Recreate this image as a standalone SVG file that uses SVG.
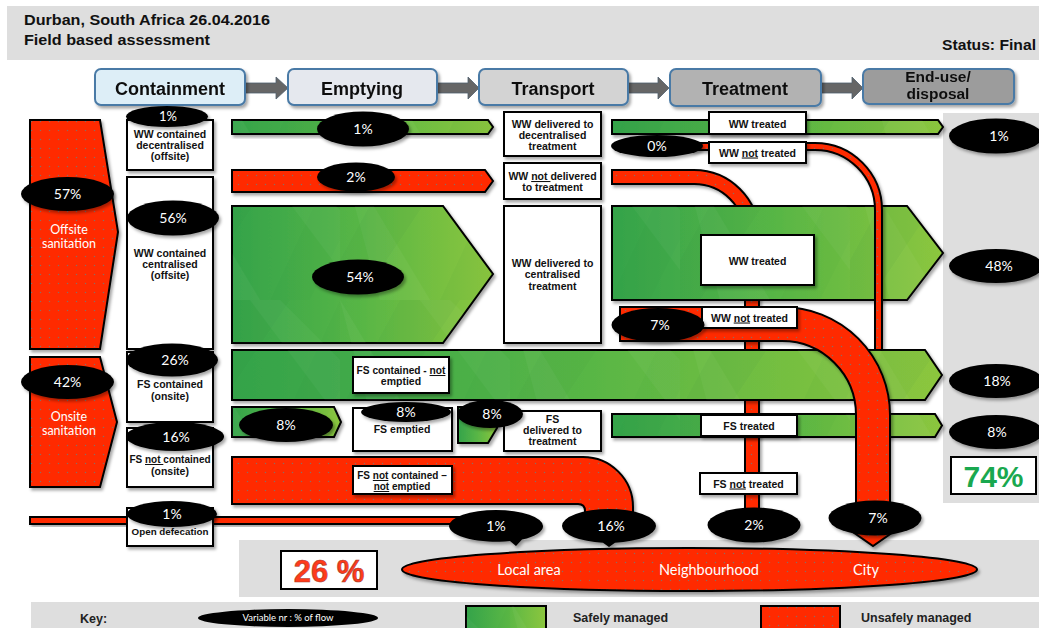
<svg xmlns="http://www.w3.org/2000/svg" width="1039" height="628" viewBox="0 0 1039 628">
  <defs>
    <style>
      .hdr{font-family:"Liberation Sans",Arial,sans-serif;font-weight:bold;font-size:14px;fill:#111}
      .stage{stroke:#4a7aa6;stroke-width:2}
      .stt{font-family:"Liberation Sans",Arial,sans-serif;font-weight:bold;font-size:18px;fill:#111;text-anchor:middle}
      .box{fill:#fff;stroke:#000;stroke-width:2}
      .bt{font-family:"Liberation Sans",Arial,sans-serif;font-weight:bold;font-size:10.5px;fill:#111;text-anchor:middle}
      .red{fill:url(#dots);stroke:#000;stroke-width:2}
      .grn{fill:url(#gg);stroke:#000;stroke-width:2}
      .fac{fill:url(#facets);stroke:none}
      .ell{fill:#000}
      .pct{font-family:Lato,"Open Sans",sans-serif;font-size:14px;fill:#fff;text-anchor:middle}
      .wl{font-family:Lato,"Open Sans",sans-serif;font-size:12.5px;fill:#fff;text-anchor:middle}
      .panel{fill:#dedede}
      .sh{filter:url(#shadow)}
      .u{text-decoration:underline}
    </style>
    <filter id="shadow" x="-10%" y="-10%" width="130%" height="140%">
      <feDropShadow dx="2" dy="2.5" stdDeviation="1.6" flood-color="#000" flood-opacity="0.35"/>
    </filter>
    <pattern id="dots" width="9" height="9" patternUnits="userSpaceOnUse">
      <rect width="9" height="9" fill="#ff2a00"/>
      <circle cx="4.5" cy="4.5" r="0.75" fill="#8f6a62"/>
    </pattern>
    <linearGradient id="gg" x1="0" y1="0" x2="1" y2="0">
      <stop offset="0" stop-color="#34a34a"/>
      <stop offset="0.5" stop-color="#58b645"/>
      <stop offset="1" stop-color="#8cc63e"/>
    </linearGradient>
    <!-- faint crossing facets over the green fills -->
    <pattern id="facets" width="170" height="150" patternUnits="userSpaceOnUse">
      <polygon points="0,0 90,150 40,150" fill="#fff" opacity="0.04"/>
      <polygon points="60,0 120,0 20,150 0,150 0,110" fill="#1e7a35" opacity="0.05"/>
      <polygon points="110,0 170,60 170,120 80,0" fill="#fff" opacity="0.035"/>
      <polygon points="170,0 100,150 140,150 170,90" fill="#1e7a35" opacity="0.04"/>
    </pattern>
  </defs>

  <!-- header band -->
  <g id="header">
    <rect x="7" y="6" width="1032" height="54" class="panel"/>
    <text class="hdr" x="24" y="25" textLength="246" lengthAdjust="spacingAndGlyphs">Durban, South Africa 26.04.2016</text>
    <text class="hdr" x="24" y="45" textLength="186" lengthAdjust="spacingAndGlyphs">Field based assessment</text>
    <text class="hdr" x="942" y="50" textLength="94" lengthAdjust="spacingAndGlyphs">Status: Final</text>
  </g>

  <!-- background panels -->
  <g id="panels">
    <rect x="943" y="113" width="96" height="390" class="panel"/>
    <rect x="239" y="540" width="800" height="57" class="panel"/>
    <rect x="31" y="602" width="1008" height="26" class="panel"/>
  </g>

  <!-- service chain stages -->
  <g id="stage-arrows" fill="#666" stroke="#4f5f6e" stroke-width="0.8">
    <polygon points="245,83 276,83 276,77 288,88 276,99 276,93 245,93"/>
    <polygon points="437,83 468,83 468,77 479,88 468,99 468,93 437,93"/>
    <polygon points="628,83 658,83 658,77 669,88 658,99 658,93 628,93"/>
    <polygon points="821,83 852,83 852,77 863,88 852,99 852,93 821,93"/>
  </g>
  <g id="stage-containment" class="sh">
    <rect x="95" y="69" width="150" height="36" rx="6" class="stage" fill="#ddeef7"/>
    <text class="stt" x="170" y="95">Containment</text>
  </g>
  <g id="stage-emptying" class="sh">
    <rect x="288" y="69" width="149" height="36" rx="6" class="stage" fill="#e5e8ee"/>
    <text class="stt" x="362" y="95">Emptying</text>
  </g>
  <g id="stage-transport" class="sh">
    <rect x="479" y="69" width="149" height="36" rx="6" class="stage" fill="#d3d3d3"/>
    <text class="stt" x="553" y="95">Transport</text>
  </g>
  <g id="stage-treatment" class="sh">
    <rect x="670" y="69" width="151" height="37" rx="6" class="stage" fill="#b2b2b2"/>
    <text class="stt" x="745" y="95">Treatment</text>
  </g>
  <g id="stage-enduse" class="sh">
    <rect x="863" y="69" width="151" height="35" rx="6" class="stage" fill="#9c9c9c"/>
    <text class="stt" x="938" y="82" style="font-size:15.5px">End-use/</text>
    <text class="stt" x="938" y="99" style="font-size:15.5px">disposal</text>
  </g>

  <!-- flows -->
  <g id="connectors">
    <!-- WW not delivered: runs beneath the green rows down to 2% -->
    <path class="red sh" d="M612 170 L694 170 A65 65 0 0 1 759 235 L759 512 L745 512 L745 235 A51 51 0 0 0 694 184 L612 184 Z"/>

    <!-- emptying / transport rows -->
    <polygon class="grn sh" points="232,120 488,120 493,127 488,134 232,134"/>
    <polygon class="fac" points="232,120 488,120 493,127 488,134 232,134"/>
    <polygon class="red sh" points="232,170 485,170 493,181 485,192 232,192"/>
    <polygon class="grn sh" points="232,206 443,206 493,274 443,343 232,343"/>
    <polygon class="fac" points="232,206 443,206 493,274 443,343 232,343"/>

    <!-- treatment rows -->
    <polygon class="grn sh" points="612,120 938,120 943,127 938,134 612,134"/>
    <polygon class="fac" points="612,120 938,120 943,127 938,134 612,134"/>
    <polygon class="grn sh" points="612,206 907,206 943,253 907,300 612,300"/>
    <polygon class="fac" points="612,206 907,206 943,253 907,300 612,300"/>

    <!-- WW not treated (decentralised) thin pipe -->
    <path class="red sh" d="M690 143 L815 143 A67 67 0 0 1 882 210 L882 372 L875 372 L875 210 A60 60 0 0 0 815 150 L690 150 Z"/>

    <!-- faecal sludge rows -->
    <polygon class="grn sh" points="232,350 925,350 942,375 925,400 232,400"/>
    <polygon class="fac" points="232,350 925,350 942,375 925,400 232,400"/>
    <polygon class="grn sh" points="232,407 334,407 341,422 334,437 232,437"/>
    <polygon class="fac" points="232,407 334,407 341,422 334,437 232,437"/>
    <polygon class="grn sh" points="458,407 497,407 497,428 488,443 458,443"/>
    <polygon class="grn sh" points="612,414 935,414 942,425.5 935,437 612,437"/>
    <polygon class="fac" points="612,414 935,414 942,425.5 935,437 612,437"/>

    <!-- WW not treated (centralised) to city -->
    <path class="red sh" d="M620 307 L782 307 A108 108 0 0 1 890 415 L890 530 L896 530 L873 546 L850 530 L856 530 L856 415 A74 74 0 0 0 782 341 L620 341 Z"/>

    <!-- FS not contained / not emptied -->
    <path class="red sh" d="M232 457 L583 457 A50 50 0 0 1 633 507 L633 525 L585 525 L585 511 Q585 504 578 504 L232 504 Z"/>

    <!-- open defecation -->
    <rect class="red sh" x="30" y="517" width="490" height="7"/>
  </g>

  <!-- containment sources -->
  <g id="offsite">
    <polygon class="red sh" points="30,120 100,120 118,232 100,349 30,349"/>
    <text class="wl" x="69" y="233.5">Offsite</text>
    <text class="wl" x="69" y="247.5">sanitation</text>
  </g>
  <g id="onsite">
    <polygon class="red sh" points="30,357 100,357 117,422 100,487 30,487"/>
    <text class="wl" x="69" y="420.5">Onsite</text>
    <text class="wl" x="69" y="434.5">sanitation</text>
  </g>

  <g id="ww-decentralised">
    <rect class="box sh" x="127" y="120" width="86" height="50"/>
    <text class="bt" x="170" y="137.5">WW contained</text>
    <text class="bt" x="170" y="148.5">decentralised</text>
    <text class="bt" x="170" y="159.5">(offsite)</text>
  </g>
  <g id="ww-centralised">
    <rect class="box sh" x="127" y="177" width="86" height="172"/>
    <text class="bt" x="170" y="257">WW contained</text>
    <text class="bt" x="170" y="267.5">centralised</text>
    <text class="bt" x="170" y="278.5">(offsite)</text>
  </g>
  <g id="fs-contained">
    <rect class="box sh" x="127" y="352" width="86" height="70"/>
    <text class="bt" x="170" y="388">FS contained</text>
    <text class="bt" x="170" y="399.5">(onsite)</text>
  </g>
  <g id="fs-not-contained">
    <rect class="box sh" x="127" y="428" width="86" height="59"/>
    <text class="bt" x="170" y="463" style="font-size:10px">FS <tspan class="u">not </tspan>contained</text>
    <text class="bt" x="170" y="474.5">(onsite)</text>
  </g>
  <g id="open-defecation">
    <rect class="box sh" x="127" y="508" width="86" height="38"/>
    <text class="bt" x="170" y="535" style="font-size:9.8px">Open defecation</text>
  </g>

  <!-- emptying labels -->
  <g id="fs-not-emptied">
    <rect class="box sh" x="353" y="357" width="96" height="36"/>
    <text class="bt" x="401" y="374" style="font-size:10.2px">FS contained - <tspan class="u">not</tspan></text>
    <text class="bt" x="401" y="385">emptied</text>
  </g>
  <g id="fs-emptied">
    <rect class="box sh" x="353" y="408" width="99" height="43"/>
    <text class="bt" x="402" y="433">FS emptied</text>
  </g>
  <g id="fs-not-contained-emptied">
    <rect class="box sh" x="353" y="466" width="99" height="28"/>
    <text class="bt" x="402" y="479" style="font-size:10px">FS <tspan class="u">not</tspan> contained –</text>
    <text class="bt" x="402" y="490" style="font-size:10px"><tspan class="u">not</tspan> emptied</text>
  </g>

  <!-- transport labels -->
  <g id="ww-delivered-decentralised">
    <rect class="box sh" x="504" y="112" width="97" height="44"/>
    <text class="bt" x="552.5" y="127.5">WW delivered to</text>
    <text class="bt" x="552.5" y="138.5">decentralised</text>
    <text class="bt" x="552.5" y="149.5">treatment</text>
  </g>
  <g id="ww-not-delivered">
    <rect class="box sh" x="504" y="163" width="97" height="36"/>
    <text class="bt" x="552.5" y="180">WW <tspan class="u">not </tspan>delivered</text>
    <text class="bt" x="552.5" y="191">to treatment</text>
  </g>
  <g id="ww-delivered-centralised">
    <rect class="box sh" x="504" y="206" width="97" height="137"/>
    <text class="bt" x="552.5" y="267">WW delivered to</text>
    <text class="bt" x="552.5" y="278">centralised</text>
    <text class="bt" x="552.5" y="289.5">treatment</text>
  </g>
  <g id="fs-delivered">
    <rect class="box sh" x="504" y="411" width="97" height="40"/>
    <text class="bt" x="552.5" y="423">FS</text>
    <text class="bt" x="552.5" y="434">delivered to</text>
    <text class="bt" x="552.5" y="445">treatment</text>
  </g>

  <!-- treatment labels -->
  <g id="ww-treated-decentralised">
    <rect class="box sh" x="709" y="112" width="97" height="22"/>
    <text class="bt" x="757.5" y="127.5">WW treated</text>
  </g>
  <g id="ww-not-treated-decentralised">
    <rect class="box sh" x="709" y="142" width="97" height="21"/>
    <text class="bt" x="757.5" y="156.5">WW <tspan class="u">not</tspan> treated</text>
  </g>
  <g id="ww-treated-centralised">
    <rect class="box sh" x="701" y="235" width="113" height="50"/>
    <text class="bt" x="757.5" y="264.5">WW treated</text>
  </g>
  <g id="ww-not-treated-centralised">
    <rect class="box sh" x="702" y="307" width="95" height="21"/>
    <text class="bt" x="749.5" y="321.5">WW <tspan class="u">not</tspan> treated</text>
  </g>
  <g id="fs-treated">
    <rect class="box sh" x="701" y="415" width="96" height="21"/>
    <text class="bt" x="749" y="429.5">FS treated</text>
  </g>
  <g id="fs-not-treated">
    <rect class="box sh" x="700" y="473" width="97" height="21"/>
    <text class="bt" x="748.5" y="487.5">FS <tspan class="u">not</tspan> treated</text>
  </g>

  <!-- flow percentages -->
  <g id="percentages">
    <g class="sh">
      <ellipse class="ell" cx="67.5" cy="194" rx="46.5" ry="17"/>
      <ellipse class="ell" cx="67.5" cy="382" rx="46.5" ry="17"/>
      <ellipse class="ell" cx="167" cy="116.5" rx="41" ry="10.5"/>
      <ellipse class="ell" cx="173" cy="218" rx="46" ry="17.5"/>
      <ellipse class="ell" cx="172" cy="360" rx="46" ry="16.5"/>
      <ellipse class="ell" cx="175" cy="436.5" rx="49" ry="14.5"/>
      <ellipse class="ell" cx="172" cy="514" rx="45" ry="13"/>
      <ellipse class="ell" cx="363" cy="129" rx="46" ry="17.5"/>
      <ellipse class="ell" cx="356" cy="177" rx="39" ry="14.5"/>
      <ellipse class="ell" cx="358" cy="277" rx="46" ry="17.5"/>
      <ellipse class="ell" cx="286" cy="425" rx="47" ry="17"/>
      <ellipse class="ell" cx="406" cy="412" rx="45" ry="10"/>
      <ellipse class="ell" cx="490" cy="414" rx="33" ry="14"/>
      <ellipse class="ell" cx="657" cy="146" rx="46" ry="11"/>
      <ellipse class="ell" cx="658" cy="325" rx="46.5" ry="17"/>
      <ellipse class="ell" cx="996" cy="136" rx="47" ry="17.5"/>
      <ellipse class="ell" cx="996" cy="266" rx="47" ry="17"/>
      <ellipse class="ell" cx="996" cy="381" rx="47" ry="17"/>
      <ellipse class="ell" cx="996" cy="432" rx="47" ry="17"/>
      <path class="ell" d="M449 526 A47 16 0 0 1 543 526 A47 16 0 0 1 522 539.5 L516 546 L510 541 A47 16 0 0 1 449 526 Z"/>
      <path class="ell" d="M562 526 A47 17 0 0 1 656 526 A47 17 0 0 1 615 542.7 L609 547 L603 542.7 A47 17 0 0 1 562 526 Z"/>
      <ellipse class="ell" cx="754" cy="525" rx="46.5" ry="17.5"/>
      <ellipse class="ell" cx="875" cy="518" rx="46.5" ry="17.5"/>
    </g>
    <text class="pct" x="67.5" y="199">57%</text>
    <text class="pct" x="67.5" y="387">42%</text>
    <text class="pct" x="168" y="121" style="font-size:13px">1%</text>
    <text class="pct" x="173" y="223">56%</text>
    <text class="pct" x="175" y="365">26%</text>
    <text class="pct" x="176" y="441.5">16%</text>
    <text class="pct" x="172" y="519">1%</text>
    <text class="pct" x="363" y="134">1%</text>
    <text class="pct" x="356" y="182">2%</text>
    <text class="pct" x="360" y="282">54%</text>
    <text class="pct" x="286" y="430">8%</text>
    <text class="pct" x="406" y="417">8%</text>
    <text class="pct" x="492" y="419">8%</text>
    <text class="pct" x="657" y="151">0%</text>
    <text class="pct" x="660" y="330">7%</text>
    <text class="pct" x="999" y="141">1%</text>
    <text class="pct" x="999" y="271">48%</text>
    <text class="pct" x="997" y="386">18%</text>
    <text class="pct" x="997" y="437">8%</text>
    <text class="pct" x="496" y="531">1%</text>
    <text class="pct" x="611" y="531">16%</text>
    <text class="pct" x="754" y="530">2%</text>
    <text class="pct" x="878" y="523">7%</text>
  </g>

  <!-- safely managed total -->
  <g id="total-safe">
    <rect class="box" x="951" y="457" width="85" height="37"/>
    <text x="993.5" y="487" text-anchor="middle" style="font-family:'Liberation Sans',Arial,sans-serif;font-weight:bold;font-size:30px;fill:#19a84f">74%</text>
  </g>

  <!-- unsafely managed destinations -->
  <g id="total-unsafe">
    <rect class="box" x="281" y="551" width="96" height="38"/>
    <text x="329" y="582" text-anchor="middle" style="font-family:'Liberation Sans',Arial,sans-serif;font-weight:bold;font-size:31px;fill:#ff3b1a;stroke:#a83a2a;stroke-width:0.6">26 %</text>
  </g>
  <g id="destinations">
    <ellipse class="red sh" cx="689.5" cy="569.5" rx="287.5" ry="21.5"/>
    <text class="wl" x="529" y="575" style="font-size:14.5px">Local area</text>
    <text class="wl" x="709" y="575" style="font-size:14.5px">Neighbourhood</text>
    <text class="wl" x="866" y="575" style="font-size:14.5px">City</text>
  </g>

  <!-- key -->
  <g id="key">
    <text x="80" y="623" style="font-family:'Liberation Sans',Arial,sans-serif;font-weight:bold;font-size:12.5px;fill:#222">Key:</text>
    <ellipse class="ell" cx="288" cy="618" rx="90" ry="9"/>
    <text x="288" y="621" text-anchor="middle" style="font-family:Lato,'Open Sans',sans-serif;font-size:9.5px;fill:#fff">Variable nr  :  % of flow</text>
    <rect class="grn" x="466" y="606" width="80" height="28"/>
    <rect class="fac" x="466" y="606" width="80" height="28"/>
    <text x="573" y="622" style="font-family:'Liberation Sans',Arial,sans-serif;font-weight:bold;font-size:12.5px;fill:#222">Safely managed</text>
    <rect class="red" x="761" y="606" width="79" height="28"/>
    <text x="861" y="622" style="font-family:'Liberation Sans',Arial,sans-serif;font-weight:bold;font-size:12.5px;fill:#222">Unsafely managed</text>
  </g>
</svg>
